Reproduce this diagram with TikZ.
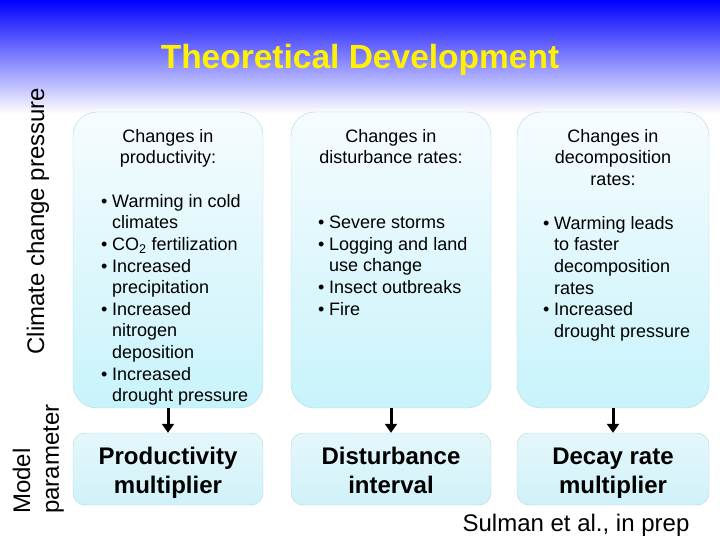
\documentclass[tikz,border=0pt]{standalone}
\usepackage{fontspec}
\setmainfont{Liberation Sans}
\usetikzlibrary{arrows.meta,positioning}

\definecolor{boxtop}{RGB}{246,252,254}
\definecolor{boxbot}{RGB}{200,243,251}
\definecolor{boxline}{RGB}{176,214,222}
\definecolor{partop}{RGB}{228,247,251}
\definecolor{parbot}{RGB}{208,242,249}

\newlength{\bulind}
\setlength{\bulind}{11pt}
\newcommand{\bul}[1]{\makebox[\bulind][l]{\textbullet}#1}
\newcommand{\cnt}[1]{\hspace*{\bulind}#1}

\begin{document}
\begin{tikzpicture}[x=1pt,y=-1pt,
  bigbox/.style={draw=boxline,rounded corners=24pt,top color=boxtop,bottom color=boxbot,minimum height=296pt,inner sep=0pt},
  parbox/.style={draw=boxline,rounded corners=12pt,top color=partop,bottom color=parbot,minimum height=72pt,inner sep=0pt,align=center,font=\fontsize{24}{28.8}\selectfont\bfseries,execute at end node=\rule[-6pt]{0pt}{60pt}},
  headtext/.style={inner sep=0pt,align=center,anchor=north,font=\fontsize{18}{21.6}\selectfont},
  listtext/.style={inner sep=0pt,align=left,anchor=north west,font=\fontsize{18}{21.6}\selectfont},
  sidetext/.style={inner sep=0pt,rotate=90,font=\fontsize{24}{28.8}\selectfont},
  down/.style={-{Triangle[length=9pt,width=12pt]},line width=3pt}]
  \useasboundingbox (0,0) rectangle (720,540);
  \shade[top color=blue,bottom color=white] (0,0) rectangle (720,114);

  \coordinate (P) at (168,260);
  \coordinate (D) at (391,260);
  \coordinate (K) at (613,260);

  \node[anchor=base,inner sep=0pt,text=yellow,font=\fontsize{33.5}{40}\selectfont\bfseries] (title) at (360,69) {Theoretical Development};

  \node[sidetext] (pressure) at (38,221) {Climate change pressure};
  \node[sidetext,align=left,anchor=south west] (param) at (64,514) {Model\\parameter};

  % climate driven changes
  \node[bigbox,minimum width=190pt] (prodbox) at (P) {};
  \node[bigbox,minimum width=200pt] (distbox) at (D) {};
  \node[bigbox,minimum width=192pt] (decbox) at (K) {};

  \node[headtext] (prodhead) at (168,129) {Changes in\\productivity:};
  \node[headtext] (disthead) at (391,129) {Changes in\\disturbance rates:};
  \node[headtext] (dechead) at (613,129) {Changes in\\decomposition\\rates:};

  \node[listtext] (prodlist) at (101,194) {\bul{Warming in cold}\\\cnt{climates}\\\bul{CO\textsubscript{2} fertilization}\\\bul{Increased}\\\cnt{precipitation}\\\bul{Increased}\\\cnt{nitrogen}\\\cnt{deposition}\\\bul{Increased}\\\cnt{drought pressure}};
  \node[listtext] (distlist) at (318,216) {\bul{Severe storms}\\\bul{Logging and land}\\\cnt{use change}\\\bul{Insect outbreaks}\\\bul{Fire}};
  \node[listtext] (declist) at (543,216) {\bul{Warming leads}\\\cnt{to faster}\\\cnt{decomposition}\\\cnt{rates}\\\bul{Increased}\\\cnt{drought pressure}};

  % model parameters
  \node[parbox,minimum width=190pt] (prodpar) at (168,469) {Productivity\\multiplier};
  \node[parbox,minimum width=200pt] (distpar) at (391,469) {Disturbance\\interval};
  \node[parbox,minimum width=192pt] (decpar) at (613,469) {Decay rate\\multiplier};

  \draw[down] (prodbox) -- (prodpar);
  \draw[down] (distbox) -- (distpar);
  \draw[down] (decbox) -- (decpar);

  \node[anchor=base,inner sep=0pt,font=\fontsize{24}{28.8}\selectfont] (cite) at (576,531) {Sulman et al., in prep};
\end{tikzpicture}
\end{document}
